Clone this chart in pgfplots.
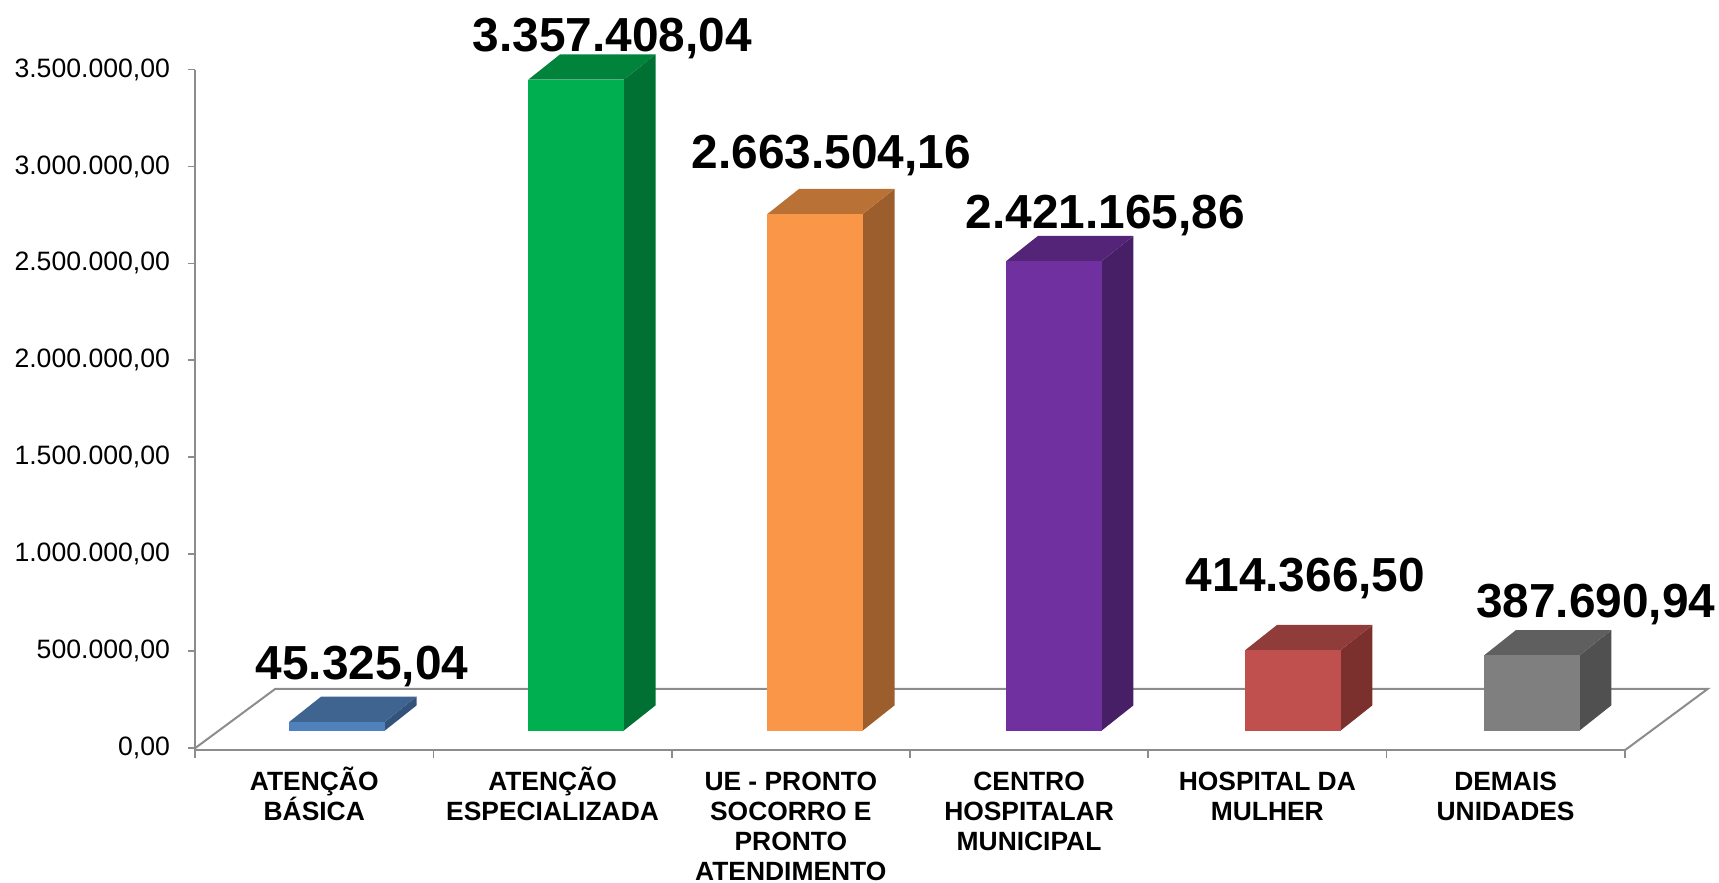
\documentclass[border=0pt]{standalone}
\usepackage{fontspec}
\setmainfont{Liberation Sans}
\usepackage{pgfplots}
\pgfplotsset{compat=1.18}

\definecolor{axisgray}{HTML}{8C8C8C}
\definecolor{blueF}{HTML}{4F81BD}\definecolor{blueT}{HTML}{3F6490}\definecolor{blueS}{HTML}{34537A}
\definecolor{greenF}{HTML}{00B050}\definecolor{greenT}{HTML}{00843C}\definecolor{greenS}{HTML}{007033}
\definecolor{orangeF}{HTML}{F99647}\definecolor{orangeT}{HTML}{BA7135}\definecolor{orangeS}{HTML}{9C5E2C}
\definecolor{purpleF}{HTML}{7030A0}\definecolor{purpleT}{HTML}{542478}\definecolor{purpleS}{HTML}{471F66}
\definecolor{redF}{HTML}{C0504D}\definecolor{redT}{HTML}{903C3A}\definecolor{redS}{HTML}{7B302E}
\definecolor{grayF}{HTML}{7F7F7F}\definecolor{grayT}{HTML}{5F5F5F}\definecolor{grayS}{HTML}{505050}

% the bars stand a little in from the front edge of the floor
\tikzset{lift/.style={yshift=8.8pt,draw=none}}
\newcommand{\vallabel}[3]{\node[anchor=base,inner sep=0pt,font=\fontsize{23.9}{28}\selectfont\bfseries] at (axis cs:#1,#2) {#3};}
% same height for the first line of every category name
\newcommand{\fl}{\rule{0pt}{12.4pt}}

\begin{document}
\begin{tikzpicture}
\useasboundingbox (0,0) rectangle (859.5pt,441.5pt);
\begin{axis}[
    at={(97.57pt,66.33pt)}, anchor=south west,
    scale only axis, width=714.8pt, height=340.4pt,
    xmin=0, xmax=6, ymin=-11312, ymax=3500000,
    clip=false,
    axis x line*=bottom, axis y line*=left,
    axis line style={draw=axisgray,line width=1pt,-},
    tick style={draw=axisgray,line width=0.9pt},
    tick align=outside, major tick length=3.6pt,
    scaled y ticks=false,
    ytick={0,500000,1000000,1500000,2000000,2500000,3000000,3500000},
    yticklabels={{0,00},{500.000,00},{1.000.000,00},{1.500.000,00},{2.000.000,00},{2.500.000,00},{3.000.000,00},{3.500.000,00}},
    yticklabel style={font=\fontsize{13.3}{16}\selectfont,xshift=-5.5pt},
    xtick={0,1,2,3,4,5,6},
    xticklabels={,,,,,,},
    extra x ticks={0.5,1.5,2.5,3.5,4.5,5.5},
    extra x tick labels={{\fl ATENÇÃO\\BÁSICA},{\fl ATENÇÃO\\ESPECIALIZADA},{\fl UE - PRONTO\\SOCORRO E\\PRONTO\\ATENDIMENTO},{\fl CENTRO\\HOSPITALAR\\MUNICIPAL},{\fl HOSPITAL DA\\MULHER},{\fl DEMAIS\\UNIDADES}},
    extra x tick style={major tick length=0pt,tick style={draw=none},
      xticklabel style={font=\fontsize{13.2}{15}\selectfont\bfseries,align=center,anchor=north,yshift=-4pt}},
]
% floor
\addplot[axisgray,line width=1pt] coordinates {(0,0) (0.336,305400) (6.348,305400) (6,-11312)};

% ATENCAO BASICA
\addplot[lift,fill=blueS] coordinates {(0.7964,0) (0.7964,45325.04) (0.9298,175325.04) (0.9298,130000)};
\addplot[lift,fill=blueT] coordinates {(0.3956,45325.04) (0.7964,45325.04) (0.9298,175325.04) (0.529,175325.04)};
\addplot[lift,ybar,bar width=0.4008,fill=blueF] coordinates {(0.596,45325.04)};
% ATENCAO ESPECIALIZADA
\addplot[lift,fill=greenS] coordinates {(1.7992,0) (1.7992,3357408.04) (1.9326,3487408.04) (1.9326,130000)};
\addplot[lift,fill=greenT] coordinates {(1.3984,3357408.04) (1.7992,3357408.04) (1.9326,3487408.04) (1.5318,3487408.04)};
\addplot[lift,ybar,bar width=0.4008,fill=greenF] coordinates {(1.5988,3357408.04)};
% UE
\addplot[lift,fill=orangeS] coordinates {(2.802,0) (2.802,2663504.16) (2.9354,2793504.16) (2.9354,130000)};
\addplot[lift,fill=orangeT] coordinates {(2.4012,2663504.16) (2.802,2663504.16) (2.9354,2793504.16) (2.5346,2793504.16)};
\addplot[lift,ybar,bar width=0.4008,fill=orangeF] coordinates {(2.6016,2663504.16)};
% CENTRO HOSPITALAR
\addplot[lift,fill=purpleS] coordinates {(3.8048,0) (3.8048,2421165.86) (3.9382,2551165.86) (3.9382,130000)};
\addplot[lift,fill=purpleT] coordinates {(3.404,2421165.86) (3.8048,2421165.86) (3.9382,2551165.86) (3.5374,2551165.86)};
\addplot[lift,ybar,bar width=0.4008,fill=purpleF] coordinates {(3.6044,2421165.86)};
% HOSPITAL DA MULHER
\addplot[lift,fill=redS] coordinates {(4.8076,0) (4.8076,414366.50) (4.941,544366.50) (4.941,130000)};
\addplot[lift,fill=redT] coordinates {(4.4068,414366.50) (4.8076,414366.50) (4.941,544366.50) (4.5402,544366.50)};
\addplot[lift,ybar,bar width=0.4008,fill=redF] coordinates {(4.6072,414366.50)};
% DEMAIS UNIDADES
\addplot[lift,fill=grayS] coordinates {(5.8104,0) (5.8104,387690.94) (5.9438,517690.94) (5.9438,130000)};
\addplot[lift,fill=grayT] coordinates {(5.4096,387690.94) (5.8104,387690.94) (5.9438,517690.94) (5.543,517690.94)};
\addplot[lift,ybar,bar width=0.4008,fill=grayF] coordinates {(5.61,387690.94)};

\vallabel{0.700}{353000}{45.325,04}
\vallabel{1.750}{3591000}{3.357.408,04}
\vallabel{2.670}{2991000}{2.663.504,16}
\vallabel{3.820}{2680000}{2.421.165,86}
\vallabel{4.660}{808000}{414.366,50}
\vallabel{5.878}{672000}{387.690,94}
\end{axis}
\end{tikzpicture}
\end{document}
